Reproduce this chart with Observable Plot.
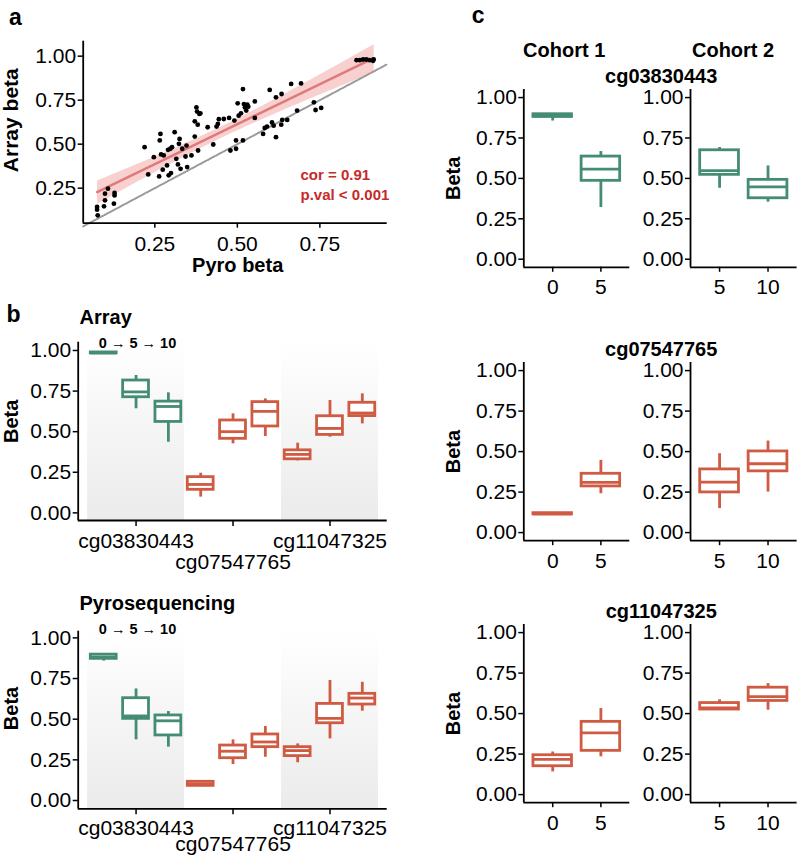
<!DOCTYPE html>
<html><head><meta charset="utf-8">
<script src="https://cdn.jsdelivr.net/npm/d3@7"></script>
<script src="https://cdn.jsdelivr.net/npm/@observablehq/plot@0.6"></script>
<style>
body{margin:0;background:#fff;}
#fig{position:relative;width:797px;height:860px;overflow:hidden;background:#fff;}
</style></head>
<body><div id="fig"></div>
<script>
// ---------------- DATA ----------------
// Panel a: pyrosequencing vs array beta values
const pyroBeta = [0.075,0.075,0.077,0.096,0.099,0.099,0.108,0.126,0.128,0.128,
  0.219,0.230,0.247,0.263,0.265,0.267,0.269,0.274,0.277,0.287,0.290,0.292,0.297,0.299,0.302,
  0.310,0.315,0.320,0.323,0.325,0.328,0.333,0.343,0.346,0.348,0.361,0.371,0.371,0.376,0.378,
  0.380,0.381,0.385,0.388,0.410,0.427,0.437,0.441,0.444,0.459,0.475,0.479,0.491,0.496,0.496,
  0.501,0.504,0.511,0.517,0.517,0.520,0.523,0.527,0.530,0.533,0.553,0.553,0.578,0.583,0.590,
  0.598,0.605,0.610,0.617,0.617,0.633,0.634,0.636,0.651,0.663,0.681,0.693,0.732,0.737,0.754,
  0.861,0.871,0.881,0.891,0.901,0.911,0.913];
const arrayBeta = [0.143,0.128,0.096,0.147,0.181,0.219,0.247,0.162,0.209,0.223,
  0.483,0.328,0.426,0.317,0.521,0.558,0.442,0.355,0.436,0.379,0.468,0.323,0.474,0.336,0.483,
  0.568,0.417,0.385,0.502,0.530,0.360,0.474,0.430,0.492,0.370,0.436,0.543,0.630,0.709,0.685,
  0.611,0.464,0.672,0.675,0.596,0.498,0.600,0.615,0.642,0.643,0.649,0.464,0.634,0.474,0.521,
  0.732,0.662,0.675,0.813,0.521,0.728,0.709,0.691,0.725,0.713,0.743,0.649,0.558,0.592,0.600,
  0.808,0.623,0.605,0.540,0.766,0.611,0.785,0.638,0.638,0.842,0.691,0.845,0.738,0.694,0.706,
  0.977,0.977,0.981,0.981,0.977,0.974,0.981];
const identityRange = [0.033, 0.954];
const statsText = "cor = 0.91\np.val < 0.001";

// Panel b: probes x timepoints (order: probe0 t0,t5,t10, probe1 ..., probe2 ...)
const probes = ["cg03830443", "cg07547765", "cg11047325"];
const timepoints = [0, 5, 10];
const arrowText = "0 \u2192 5 \u2192 10";
const arrayLo  = [0.980, 0.641, 0.435, 0.097, 0.425, 0.470, 0.320, 0.466, 0.548];
const arrayQ1  = [0.982, 0.712, 0.560, 0.142, 0.456, 0.532, 0.330, 0.480, 0.596];
const arrayMed = [0.985, 0.745, 0.655, 0.175, 0.500, 0.625, 0.360, 0.520, 0.615];
const arrayQ3  = [0.988, 0.815, 0.685, 0.220, 0.569, 0.682, 0.385, 0.595, 0.678];
const arrayHi  = [0.988, 0.846, 0.739, 0.244, 0.610, 0.702, 0.429, 0.692, 0.733];
const pyroLo   = [0.857, 0.373, 0.328, 0.085, 0.221, 0.266, 0.232, 0.379, 0.549];
const pyroQ1   = [0.871, 0.502, 0.400, 0.090, 0.260, 0.328, 0.273, 0.475, 0.590];
const pyroMed  = [0.882, 0.520, 0.490, 0.102, 0.303, 0.360, 0.307, 0.505, 0.630];
const pyroQ3   = [0.897, 0.629, 0.523, 0.115, 0.338, 0.406, 0.328, 0.594, 0.656];
const pyroHi   = [0.899, 0.686, 0.547, 0.118, 0.373, 0.455, 0.348, 0.738, 0.727];

// Panel c: cohorts (order: probe0 tA,tB, probe1 tA,tB, probe2 tA,tB)
const cohorts = ["Cohort 1", "Cohort 2"];
const cohort1Times = [0, 5];
const cohort2Times = [5, 10];
const c1Lo  = [0.855, 0.320, 0.110, 0.240, 0.140, 0.233];
const c1Q1  = [0.880, 0.485, 0.112, 0.285, 0.175, 0.270];
const c1Med = [0.888, 0.557, 0.116, 0.310, 0.218, 0.381];
const c1Q3  = [0.897, 0.635, 0.120, 0.363, 0.243, 0.449];
const c1Hi  = [0.899, 0.666, 0.122, 0.446, 0.263, 0.531];
const c2Lo  = [0.439, 0.353, 0.148, 0.250, 0.521, 0.521];
const c2Q1  = [0.522, 0.377, 0.248, 0.378, 0.525, 0.578];
const c2Med = [0.548, 0.447, 0.312, 0.425, 0.535, 0.605];
const c2Q3  = [0.674, 0.491, 0.390, 0.501, 0.565, 0.660];
const c2Hi  = [0.691, 0.577, 0.487, 0.565, 0.585, 0.685];

const yTicks = [0, 0.25, 0.5, 0.75, 1];

// ---------------- STYLE ----------------
const FONT = '"Liberation Sans", Arial, Helvetica, sans-serif';
const probeColors = ["#448c74", "#cf5b43", "#cf5b43"];
const STATS_RED = "#c62a2a";
const BOX_HALF = 0.4;
const BOX_W = 2.8;
const AXIS_W = 1.8;
const TICK_FS = 21;
const baseStyle = {fontFamily: FONT, fontSize: "20px", color: "black", background: "none", overflow: "visible"};
const fmt = d3.format(".2f");
const fig = document.getElementById("fig");
function put(svg, left, top) {
  svg.style.position = "absolute";
  svg.style.left = left + "px";
  svg.style.top = top + "px";
  fig.appendChild(svg);
}
function label(text, o) {
  return Plot.text([text], {text: d => d, textAnchor: "middle", lineAnchor: "middle", fontWeight: "bold", fontSize: 20, ...o});
}
function letter(ch, dx, dy) {
  return label(ch, {frameAnchor: "top-left", dx, dy, fontSize: 23});
}
function boxMarks(rows) {
  return [
    Plot.ruleX(rows, {x: "pos", y1: "lo", y2: "hi", stroke: "color", strokeWidth: BOX_W}),
    Plot.rect(rows, {x1: d => d.pos - BOX_HALF, x2: d => d.pos + BOX_HALF, y1: "q1", y2: "q3", fill: "white", stroke: "color", strokeWidth: BOX_W}),
    Plot.ruleY(rows, {y: "med", x1: d => d.pos - BOX_HALF, x2: d => d.pos + BOX_HALF, stroke: "color", strokeWidth: BOX_W})
  ];
}

// ---------------- PANEL A ----------------
{
  const pts = pyroBeta.map((x, i) => ({x, y: arrayBeta[i]}));
  const xDom = [0.033, 0.954], yDom = [0.051, 1.085];
  const svg = Plot.plot({
    width: 400, height: 290,
    marginLeft: 82.7, marginRight: 13.3, marginTop: 40.7, marginBottom: 67.3,
    style: baseStyle,
    x: {domain: xDom}, y: {domain: yDom},
    marks: [
      Plot.line(identityRange, {x: d => d, y: d => d, stroke: "#999999", strokeWidth: 2, strokeDasharray: "1.5,1.5"}),
      Plot.linearRegressionY(pts, {x: "x", y: "y", stroke: "#e07a7a", strokeWidth: 2.5, fill: "#ee8a8a", fillOpacity: 0.4, ci: 0.999}),
      Plot.dot(pts, {x: "x", y: "y", r: 2.4, fill: "black", stroke: "none"}),
      Plot.ruleX([xDom[0]], {stroke: "black", strokeWidth: AXIS_W}),
      Plot.ruleY([yDom[0]], {stroke: "black", strokeWidth: AXIS_W}),
      Plot.axisY({ticks: yTicks.slice(1), tickFormat: fmt, tickSize: 5, tickPadding: 2, fontSize: TICK_FS, strokeWidth: 1.5, label: null}),
      Plot.axisX({ticks: [0.25, 0.5, 0.75], tickFormat: fmt, tickSize: 5, tickPadding: 8, fontSize: TICK_FS, strokeWidth: 1.5, label: null}),
      label("Pyro beta", {frameAnchor: "bottom", dx: 2.5, dy: 42}),
      label("Array beta", {frameAnchor: "left", rotate: -90, dx: -71.5, dy: -12, fontSize: 21}),
      Plot.text([statsText], {text: d => d, frameAnchor: "bottom-right", textAnchor: "start", lineAnchor: "middle", dx: -86.7, dy: -39.7, lineHeight: 1.33, fill: STATS_RED, fontWeight: "bold", fontSize: 15}),
      letter("a", -67.7, -24)
    ]
  });
  put(svg, 0, 0);
}

// ---------------- PANEL B ----------------
function groupPanel(o) {
  const rows = [];
  probes.forEach((p, g) => timepoints.forEach((t, k) => {
    const i = g * timepoints.length + k;
    rows.push({pos: i, lo: o.lo[i], q1: o.q1[i], med: o.med[i], q3: o.q3[i], hi: o.hi[i], color: probeColors[g]});
  }));
  const n = timepoints.length;
  const centers = probes.map((p, g) => g * n + (n - 1) / 2);
  const probeAt = d => probes[Math.round((d - (n - 1) / 2) / n)];
  const shaded = [0, 2];
  const xDom = [-0.79, 8.77];
  const svg = Plot.plot({
    width: 400, height: o.height,
    marginLeft: 77.7, marginRight: 13.3, marginTop: o.mTop, marginBottom: o.mBottom,
    style: baseStyle,
    x: {domain: xDom}, y: {domain: o.yDom},
    marks: [
      Plot.rect(shaded, {x1: g => g * n - 0.5, x2: g => g * n + n - 0.5, fill: "#eeeeee", className: "shade"}),
      ...boxMarks(rows),
      Plot.ruleX([xDom[0]], {stroke: "black", strokeWidth: AXIS_W}),
      Plot.ruleY([o.yDom[0]], {stroke: "black", strokeWidth: AXIS_W}),
      Plot.axisY({ticks: yTicks, tickFormat: fmt, tickSize: 5, tickPadding: 2, fontSize: TICK_FS, strokeWidth: 1.5, label: null}),
      Plot.axisX({ticks: centers, tickFormat: d => (d === centers[1] ? "" : probeAt(d)), tickSize: 6, tickPadding: o.row1Pad, fontSize: TICK_FS, strokeWidth: 1.5, label: null}),
      Plot.axisX({ticks: [centers[1]], tickFormat: probeAt, tickSize: 0, tickPadding: o.row2Pad, fontSize: TICK_FS, label: null}),
      label(o.title, {frameAnchor: "top-left", textAnchor: "start", dx: 1.3, dy: o.titleDy}),
      label(arrowText, {x: () => centers[0], frameAnchor: "top", dx: 1.5, dy: o.arrowDy, fontSize: 14.5}),
      label("Beta", {frameAnchor: "left", rotate: -90, dx: -66.5, dy: o.betaDy}),
      ...(o.extra || [])
    ]
  });
  d3.select(svg).insert("defs", ":first-child").html(
    '<linearGradient id="shadeGrad" x1="0" y1="0" x2="0" y2="1">' +
    '<stop offset="0" stop-color="#ffffff"/><stop offset="0.2" stop-color="#fbfbfb"/><stop offset="1" stop-color="#ebebeb"/></linearGradient>');
  d3.select(svg).selectAll(".shade rect").attr("fill", "url(#shadeGrad)");
  put(svg, 0, o.top);
}
groupPanel({title: "Array", lo: arrayLo, q1: arrayQ1, med: arrayMed, q3: arrayQ3, hi: arrayHi,
  top: 300, height: 275, mTop: 41.7, mBottom: 55, yDom: [-0.047, 1.051],
  titleDy: -25, arrowDy: 1.6, betaDy: -10, row1Pad: 7, row2Pad: 34,
  extra: [letter("b", -64.7, -27.7)]});
groupPanel({title: "Pyrosequencing", lo: pyroLo, q1: pyroQ1, med: pyroMed, q3: pyroQ3, hi: pyroHi,
  top: 580, height: 280, mTop: 50.7, mBottom: 51.7, yDom: [-0.051, 1.041],
  titleDy: -28, arrowDy: -1.4, betaDy: -11.5, row1Pad: 5, row2Pad: 27});

// ---------------- PANEL C ----------------
const rowFrames = [[88.6, 266.4], [361.9, 540.1], [624.2, 802.4]];
const cXDom = [-0.6, 1.6], cYDom = [-0.05, 1.05];
function cohortPanel(c, p) {
  const times = c === 0 ? cohort1Times : cohort2Times;
  const S = c === 0 ? {lo: c1Lo, q1: c1Q1, med: c1Med, q3: c1Q3, hi: c1Hi} : {lo: c2Lo, q1: c2Q1, med: c2Med, q3: c2Q3, hi: c2Hi};
  const rows = times.map((t, k) => {
    const i = p * times.length + k;
    return {pos: k, lo: S.lo[i], q1: S.q1[i], med: S.med[i], q3: S.q3[i], hi: S.hi[i], color: probeColors[p]};
  });
  const [fTop, fBottom] = rowFrames[p];
  const mTop = 60, mBottom = 40;
  const geom = c === 0 ? {left: 440, width: 200, mLeft: 83.3, mRight: 10.7} : {left: 640, width: 157, mLeft: 50, mRight: 0.4};
  const extra = [];
  if (p === 0) extra.push(label(cohorts[c], {frameAnchor: "top", dx: c === 0 ? -12.6 : -10.7, dy: -38.6}));
  if (c === 0) {
    extra.push(label(probes[p], {frameAnchor: "top-right", dx: 31.4, dy: -13}));
    extra.push(label("Beta", {frameAnchor: "left", rotate: -90, dx: -70, dy: 0}));
    if (p === 0) extra.push(letter("c", -45.6, -73.6));
  }
  const svg = Plot.plot({
    width: geom.width, height: (fBottom - fTop) + mTop + mBottom,
    marginLeft: geom.mLeft, marginRight: geom.mRight, marginTop: mTop, marginBottom: mBottom,
    style: baseStyle,
    x: {domain: cXDom}, y: {domain: cYDom},
    marks: [
      ...boxMarks(rows),
      Plot.ruleX([cXDom[0]], {stroke: "black", strokeWidth: AXIS_W}),
      Plot.ruleY([cYDom[0]], {stroke: "black", strokeWidth: AXIS_W}),
      Plot.axisY({ticks: yTicks, tickFormat: fmt, tickSize: 5, tickPadding: 2, fontSize: TICK_FS, strokeWidth: 1.5, label: null}),
      Plot.axisX({ticks: times.map((t, k) => k), tickFormat: k => times[k], tickSize: 5, tickPadding: 7, fontSize: TICK_FS, strokeWidth: 1.5, label: null}),
      ...extra
    ]
  });
  put(svg, geom.left, fTop - mTop);
}
probes.forEach((p, pi) => cohorts.forEach((c, ci) => cohortPanel(ci, pi)));
</script>
</body></html>
